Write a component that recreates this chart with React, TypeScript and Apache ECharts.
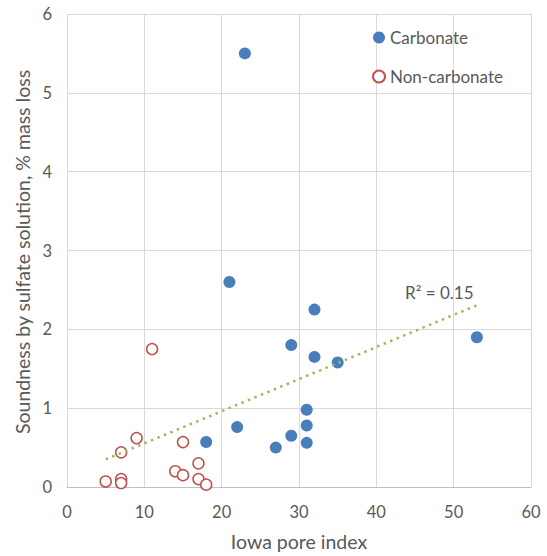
import React, { useEffect, useRef } from "react";
import * as echarts from "echarts";

const carbonateX = [23, 21, 32, 29, 32, 35, 53, 31, 31, 31, 29, 27, 22, 18];
const carbonateY = [5.5, 2.6, 2.25, 1.8, 1.65, 1.58, 1.9, 0.98, 0.78, 0.56, 0.65, 0.5, 0.76, 0.57];
const nonCarbX = [11, 9, 7, 15, 17, 14, 15, 17, 18, 5, 7, 7];
const nonCarbY = [1.75, 0.62, 0.44, 0.57, 0.3, 0.2, 0.15, 0.1, 0.03, 0.07, 0.1, 0.05];
const seriesNames = ["Carbonate", "Non-carbonate"];
const xTitle = "Iowa pore index";
const yTitle = "Soundness by sulfate solution, % mass loss";
const r2Label = "R\u00B2 = 0.15";

const FONT = "Lato, 'Open Sans', sans-serif";
const GREY = "#595959";

function linearFit(xs: number[], ys: number[]) {
  const n = xs.length;
  const mx = xs.reduce((a, b) => a + b, 0) / n;
  const my = ys.reduce((a, b) => a + b, 0) / n;
  let sxy = 0, sxx = 0;
  for (let i = 0; i < n; i++) {
    sxy += (xs[i] - mx) * (ys[i] - my);
    sxx += (xs[i] - mx) ** 2;
  }
  const slope = sxy / sxx;
  return { slope, intercept: my - slope * mx };
}

export default function App() {
  const ref = useRef<HTMLDivElement>(null);
  useEffect(() => {
    if (!ref.current) return;
    const chart = echarts.init(ref.current, undefined, { renderer: "svg" });
    const allX = [...carbonateX, ...nonCarbX];
    const allY = [...carbonateY, ...nonCarbY];
    const fit = linearFit(allX, allY);
    const x0 = Math.min(...allX);
    const x1 = Math.max(...allX);
    const trend = [
      [x0, fit.intercept + fit.slope * x0],
      [x1, fit.intercept + fit.slope * x1],
    ];
    chart.setOption({
      animation: false,
      textStyle: { fontFamily: FONT },
      grid: { left: 67, right: 16, top: 14, bottom: 67 },
      xAxis: {
        type: "value",
        min: 0,
        max: 60,
        interval: 10,
        name: xTitle,
        nameLocation: "middle",
        nameGap: 44,
        nameTextStyle: { color: GREY, fontSize: 19.5, fontFamily: FONT },
        axisLine: { show: true, lineStyle: { color: "#bfbfbf", width: 1 } },
        axisTick: { show: false },
        axisLabel: { color: GREY, fontSize: 16.5, margin: 16, fontFamily: FONT },
        splitLine: { show: true, lineStyle: { color: "#d9d9d9", width: 1 } },
      },
      yAxis: {
        type: "value",
        min: 0,
        max: 6,
        interval: 1,
        axisLine: { show: false },
        axisTick: { show: false },
        axisLabel: { color: GREY, fontSize: 16.5, margin: 15, fontFamily: FONT },
        splitLine: { show: true, lineStyle: { color: "#d9d9d9", width: 1 } },
      },
      legend: {
        orient: "vertical",
        left: 367,
        top: 24,
        itemGap: 22,
        itemWidth: 12,
        itemHeight: 12,
        data: seriesNames,
        textStyle: { color: GREY, fontSize: 17, fontFamily: FONT },
      },
      series: [
        {
          name: seriesNames[0],
          type: "scatter",
          symbol: "circle",
          symbolSize: 12,
          itemStyle: { color: "#4A7EBB", opacity: 1 },
          data: carbonateX.map((x, i) => [x, carbonateY[i]]),
          z: 3,
        },
        {
          name: seriesNames[1],
          type: "scatter",
          symbol: "circle",
          symbolSize: 11,
          itemStyle: { color: "#ffffff", borderColor: "#C0504D", borderWidth: 1.5, opacity: 1 },
          data: nonCarbX.map((x, i) => [x, nonCarbY[i]]),
          z: 3,
        },
        {
          name: "trend",
          type: "line",
          symbol: "none",
          data: trend,
          lineStyle: { color: "#9BBB59", width: 2.5, type: [2.5, 4.5] },
          z: 4,
          silent: true,
        },
      ],
      graphic: [
        {
          type: "text",
          x: 405,
          y: 292,
          style: {
            text: r2Label,
            fill: GREY,
            fontSize: 17,
            fontFamily: FONT,
            textAlign: "left",
            textVerticalAlign: "middle",
          },
        },
        {
          type: "text",
          x: 22,
          y: 252,
          rotation: Math.PI / 2,
          style: {
            text: yTitle,
            fill: GREY,
            fontSize: 19.5,
            fontFamily: FONT,
            textAlign: "center",
            textVerticalAlign: "middle",
          },
        },
      ],
    });
    return () => chart.dispose();
  }, []);
  return (
    <div
      ref={ref}
      style={{ position: "fixed", left: 0, top: 0, width: 547, height: 556, background: "#fff" }}
    />
  );
}
